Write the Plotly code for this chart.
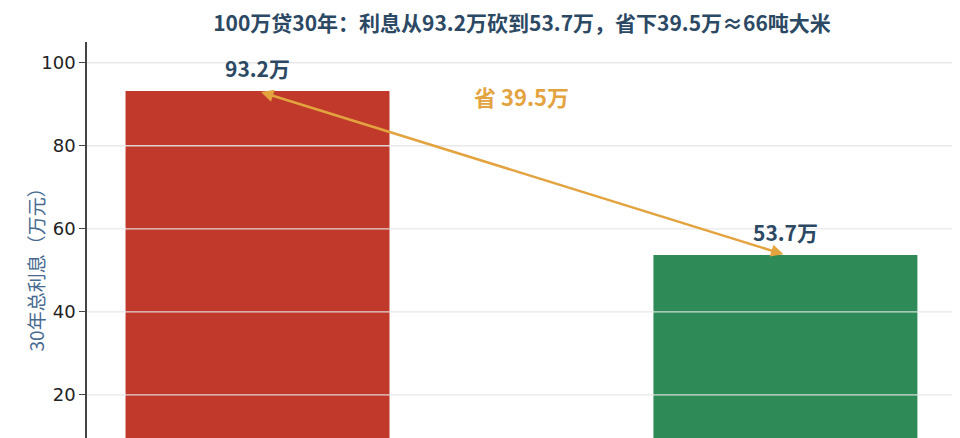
import plotly.graph_objects as go

# Data
categories = ['原利率', '新利率']
interest = [93.2, 53.7]          # 30年总利息（万元）
bar_colors = ['#c0392b', '#2e8b57']
y_ticks = [20, 40, 60, 80, 100]

title_text = '100万贷30年：利息从93.2万砍到53.7万，省下39.5万≈66吨大米'
saved = round(interest[0] - interest[1], 1)

dark = '#2c4964'
gold = '#e3a33f'

fig = go.Figure()

fig.add_trace(go.Bar(
    x=[0, 1], y=interest,
    marker=dict(color=bar_colors, line=dict(width=0)),
    width=0.5,
    hoverinfo='y',
    showlegend=False
))

# value labels on top of the bars
for i, v in enumerate(interest):
    fig.add_annotation(x=i, y=v, text=f'<b>{v}万</b>', showarrow=False,
                       yanchor='bottom', yshift=6,
                       font=dict(family='Noto Sans CJK SC', size=21, color=dark))

# double-headed arrow between the bar tops
fig.add_annotation(x=1, y=interest[1], ax=0, ay=interest[0],
                   xref='x', yref='y', axref='x', ayref='y',
                   text='', showarrow=True, arrowside='end+start',
                   arrowhead=2, startarrowhead=2, arrowsize=1, startarrowsize=1,
                   arrowwidth=2.5, arrowcolor=gold, standoff=2, startstandoff=2)

fig.add_annotation(x=0.5, y=92, text=f'<b>省 {saved}万</b>', showarrow=False,
                   font=dict(family='Noto Sans CJK SC', size=22, color=gold))

# y axis title
fig.add_annotation(xref='paper', yref='paper', x=-0.077, y=0.437,
                   text='30年总利息（万元）', textangle=-90, showarrow=False,
                   font=dict(family='Noto Sans CJK SC', size=19, color='#46698f'))

# grid drawn above the bars
for t in y_ticks:
    fig.add_shape(type='line', xref='paper', yref='y', x0=0, x1=1, y0=t, y1=t,
                  line=dict(color='rgba(230,230,230,0.9)', width=1.3), layer='above')

fig.update_layout(
    width=952, height=430,
    margin=dict(l=79, r=3, t=34, b=0),
    paper_bgcolor='white', plot_bgcolor='white',
    title=dict(text=f'<b>{title_text}</b>', x=0.5, xref='paper',
               y=1 - 16 / 430, yref='container', yanchor='middle',
               font=dict(family='Noto Sans CJK SC', size=21, color=dark)),
    bargap=0.5
)

fig.update_xaxes(range=[-0.323, 1.325], showticklabels=False, showgrid=False,
                 zeroline=False, showline=False, tickvals=[0, 1], ticktext=categories)
fig.update_yaxes(range=[9.6, 105], tickvals=y_ticks, showgrid=False, zeroline=False,
                 showline=True, linecolor='#444', linewidth=1.5,
                 ticks='outside', ticklen=6, tickcolor='#444', tickwidth=1.2,
                 tickfont=dict(family='DejaVu Sans', size=18, color='#222'))

fig.write_html('out.html')
